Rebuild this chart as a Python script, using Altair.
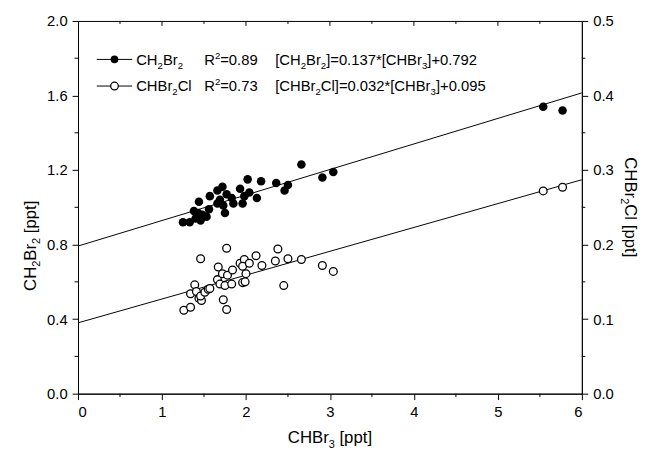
import altair as alt
import pandas as pd

# ---- data ----
chbr3_a = [1.25, 1.33, 1.40, 1.46, 1.38, 1.43, 1.48, 1.44, 1.53, 1.56, 1.57, 1.66, 1.72, 1.69, 1.66,
           1.73, 1.75, 1.77, 1.83, 1.85, 1.93, 1.96, 1.98, 2.02, 2.04, 2.13, 2.18, 2.36, 2.46, 2.50,
           2.66, 2.91, 3.04, 5.54, 5.77]
ch2br2 = [0.92, 0.92, 0.94, 0.93, 0.98, 0.97, 0.96, 1.03, 0.95, 0.99, 1.06, 1.09, 1.11, 1.04, 1.02,
          1.01, 0.97, 1.07, 1.05, 1.02, 1.10, 1.02, 1.06, 1.15, 1.08, 1.05, 1.14, 1.13, 1.09, 1.12,
          1.23, 1.16, 1.19, 1.54, 1.52]

chbr3_b = [1.26, 1.34, 1.46, 1.39, 1.34, 1.41, 1.44, 1.47, 1.46, 1.51, 1.55, 1.57, 1.67, 1.66, 1.69,
           1.72, 1.78, 1.75, 1.83, 1.84, 1.73, 1.77, 1.77, 1.93, 1.98, 1.96, 2.04, 2.00, 1.96, 1.99,
           2.12, 2.19, 2.35, 2.38, 2.50, 2.66, 2.91, 3.04, 2.45, 5.54, 5.77]
chbr2cl = [0.112, 0.116, 0.181, 0.146, 0.134, 0.137, 0.128, 0.125, 0.131, 0.136, 0.140, 0.141, 0.170,
           0.153, 0.147, 0.161, 0.159, 0.145, 0.147, 0.166, 0.126, 0.113, 0.195, 0.175, 0.180, 0.171,
           0.175, 0.161, 0.149, 0.150, 0.185, 0.172, 0.178, 0.194, 0.181, 0.180, 0.172, 0.164, 0.145,
           0.272, 0.277]

# regression coefficients (slope, intercept) as printed
fit_a = (0.137, 0.792)
fit_b = (0.032, 0.095)
fit_x = [0, 6]

x_major = [0, 1, 2, 3, 4, 5, 6]
x_minor = [0.5, 1.5, 2.5, 3.5, 4.5, 5.5]
yl_major = [0.0, 0.4, 0.8, 1.2, 1.6, 2.0]
yl_minor = [0.2, 0.6, 1.0, 1.4, 1.8]
yr_major = [0.0, 0.1, 0.2, 0.3, 0.4, 0.5]
yr_minor = [0.05, 0.15, 0.25, 0.35, 0.45]

# rich texts: (text, mode): "n" normal, "b" subscript, "p" superscript, "g" gap (a space)
title_x = [("CHBr", "n"), ("3", "b"), (" ", "g"), ("[ppt]", "n")]
title_yl = [("CH", "n"), ("2", "b"), ("Br", "n"), ("2", "b"), (" ", "g"), ("[ppt]", "n")]
title_yr = [("CHBr", "n"), ("2", "b"), ("Cl [ppt]", "n")]
leg_names = [[("CH", "n"), ("2", "b"), ("Br", "n"), ("2", "b")],
             [("CHBr", "n"), ("2", "b"), ("Cl", "n")]]
leg_r2 = [[("R", "n"), ("2", "p"), ("=0.89", "n")],
          [("R", "n"), ("2", "p"), ("=0.73", "n")]]
leg_eq = [[("[CH", "n"), ("2", "b"), ("Br", "n"), ("2", "b"), ("]=0.137*[CHBr", "n"), ("3", "b"), ("]+0.792", "n")],
          [("[CHBr", "n"), ("2", "b"), ("Cl]=0.032*[CHBr", "n"), ("3", "b"), ("]+0.095", "n")]]

FONT = "Liberation Sans"
W, H = 511, 378

# Arial / Liberation Sans advance widths (per 1000 em)
AW = {" ": 278, "[": 278, "]": 278, "C": 722, "H": 722, "B": 667, "R": 722, "r": 333, "l": 222,
      "p": 556, "t": 278, "=": 584, "+": 584, "*": 389, ".": 278}


def cw(ch):
    return AW.get(ch, 556) / 1000.0


def runs(segs, f):
    out = []
    pos = 0.0
    for txt, mode in segs:
        size = 0.65 * f if mode in ("b", "p") else f
        shift = 0.28 * f if mode == "b" else (-0.42 * f if mode == "p" else 0.0)
        if mode != "g":
            out.append((txt, size, pos, shift))
        pos += sum(cw(c) for c in txt) * size
    return out, pos


def rich(segs, f, ax, ay, orient="h", anchor="left"):
    rs, total = runs(segs, f)
    start = 0.0 if anchor == "left" else -total / 2.0
    layers = []
    for txt, size, along, perp in rs:
        a = start + along
        if orient == "h":
            x, y, ang = ax + a, ay + perp, 0
        elif orient == "up":
            x, y, ang = ax + perp, ay - a, 270
        else:
            x, y, ang = ax - perp, ay + a, 90
        layers.append(alt.Chart(one).mark_text(
            text=txt, align="left", baseline="alphabetic", angle=ang, font=FONT, fontSize=size,
            color="black").encode(x=alt.value(x), y=alt.value(y)))
    return layers


one = pd.DataFrame({"k": [0]})

df_a = pd.DataFrame({"x": chbr3_a, "y": ch2br2})
df_b = pd.DataFrame({"x": chbr3_b, "y": chbr2cl})
df_fa = pd.DataFrame({"x": fit_x, "y": [fit_a[0] * v + fit_a[1] for v in fit_x]})
df_fb = pd.DataFrame({"x": fit_x, "y": [fit_b[0] * v + fit_b[1] for v in fit_x]})

xscale = alt.Scale(domain=[0, 6], nice=False, zero=False)
X = alt.X("x:Q", scale=xscale, axis=alt.Axis(values=x_major, format="d", title="", orient="bottom"))

yl_scale = alt.Scale(domain=[0, 2], nice=False, zero=False)
yr_scale = alt.Scale(domain=[0, 0.5], nice=False, zero=False)
YL = alt.Y("y:Q", scale=yl_scale, axis=alt.Axis(values=yl_major, format=".1f", title="", orient="left"))
YR = alt.Y("y:Q", scale=yr_scale, axis=alt.Axis(values=yr_major, format=".1f", title="", orient="right"))

pts_a = alt.Chart(df_a).mark_point(filled=True, shape="circle", size=75, color="black", opacity=1).encode(x=X, y=YL)
line_a = alt.Chart(df_fa).mark_line(color="black", strokeWidth=1, clip=True).encode(x=X, y=YL)

ticks_l = alt.Chart(pd.DataFrame({"y": yl_minor})).mark_rule(color="black", strokeWidth=1).encode(
    y=alt.Y("y:Q", scale=yl_scale), x=alt.value(-3.5), x2=alt.value(0))

xb_df = pd.DataFrame({"x": x_minor})
ticks_b = alt.Chart(xb_df).mark_rule(color="black", strokeWidth=1).encode(
    x=alt.X("x:Q", scale=xscale), y=alt.value(H), y2=alt.value(H + 3.5))
ticks_t_min = alt.Chart(xb_df).mark_rule(color="black", strokeWidth=1).encode(
    x=alt.X("x:Q", scale=xscale), y=alt.value(0), y2=alt.value(3))
ticks_t_maj = alt.Chart(pd.DataFrame({"x": x_major[1:-1]})).mark_rule(color="black", strokeWidth=1).encode(
    x=alt.X("x:Q", scale=xscale), y=alt.value(0), y2=alt.value(5))

leg_layers = []
for i, (ry, filled) in enumerate([(39, True), (66, False)]):
    leg_layers.append(alt.Chart(one).mark_rule(color="black", strokeWidth=1).encode(
        x=alt.value(19), x2=alt.value(55), y=alt.value(ry)))
    leg_layers.append(alt.Chart(one).mark_point(
        shape="circle", size=60, color="black", filled=filled, fill="black" if filled else "white",
        opacity=1, strokeWidth=1.3).encode(x=alt.value(37), y=alt.value(ry)))
    bl = ry + 5.4
    leg_layers += rich(leg_names[i], 15, 59, bl)
    leg_layers += rich(leg_r2[i], 15, 128, bl)
    leg_layers += rich(leg_eq[i], 15, 200, bl)

titles = []
titles += rich(title_x, 17, W / 2, 428, "h", "center")
titles += rich(title_yl, 17, -43, 228, "up", "center")
titles += rich(title_yr, 17, 555, H / 2, "down", "center")

left = alt.layer(line_a, pts_a, ticks_l, ticks_b, ticks_t_min, ticks_t_maj, *leg_layers, *titles)

pts_b = alt.Chart(df_b).mark_point(shape="circle", size=62, color="black", fill="white", filled=False,
                                   opacity=1, strokeWidth=1.3).encode(x=X, y=YR)
line_b = alt.Chart(df_fb).mark_line(color="black", strokeWidth=1, clip=True).encode(x=X, y=YR)
ticks_r = alt.Chart(pd.DataFrame({"y": yr_minor})).mark_rule(color="black", strokeWidth=1).encode(
    y=alt.Y("y:Q", scale=yr_scale), x=alt.value(W), x2=alt.value(W + 3.5))
right = alt.layer(line_b, pts_b, ticks_r)

chart = alt.layer(left, right).resolve_scale(y="independent").properties(
    width=W, height=H,
    autosize=alt.AutoSizeParams(type="none"),
    padding={"left": 71, "top": 10, "right": 62, "bottom": 55},
).configure_view(stroke="black", strokeWidth=1).configure_axis(
    grid=False, domainColor="black", domainWidth=1, tickColor="black", tickSize=6, tickWidth=1,
    labelFont=FONT, labelFontSize=15, labelColor="black", labelPadding=5,
)

chart.save("out.html", embed_options={"renderer": "svg", "actions": False})
